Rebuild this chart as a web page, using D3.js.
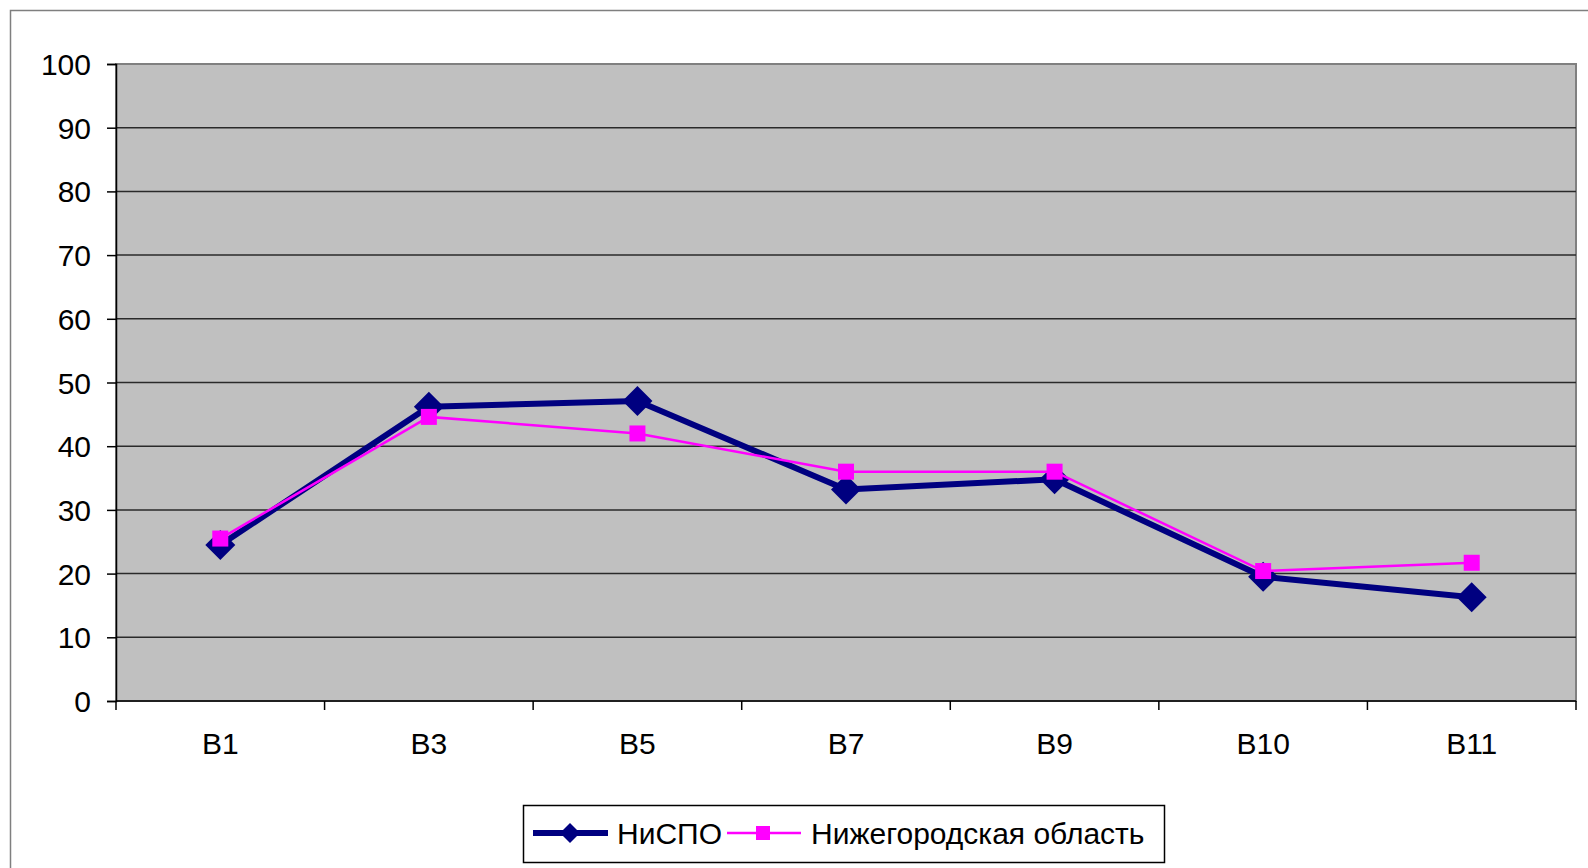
<!DOCTYPE html>
<html>
<head>
<meta charset="utf-8">
<script src="https://cdn.jsdelivr.net/npm/d3@7"></script>
<style>
  body { margin: 0; background: #fff; }
  text { font-family: "Liberation Sans", Arial, sans-serif; fill: #000; }
</style>
</head>
<body>
<script>
// data
var categories = ["B1", "B3", "B5", "B7", "B9", "B10", "B11"];
var nispo = [24.5, 46.2, 47.1, 33.2, 34.8, 19.5, 16.3];
var region = [25.5, 44.6, 42.0, 36.0, 36.0, 20.4, 21.7];
var yTicks = [0, 10, 20, 30, 40, 50, 60, 70, 80, 90, 100];
var seriesNames = ["НиСПО", "Нижегородская область"];

var w = 1588, h = 868,
    padLeft = 116, padRight = 1576, padTop = 64, padBottom = 701,
    fontSize = "30px";

var svg = d3.select("body").append("svg")
    .attr("width", w)
    .attr("height", h);

// outer chart frame
svg.append("rect")
    .attr("x", 10.5).attr("y", 10.5)
    .attr("width", w + 20).attr("height", h + 20)
    .attr("fill", "#fff")
    .attr("stroke", "#7f7f7f")
    .attr("stroke-width", 1.5);

var x = d3.scaleBand().domain(categories).range([padLeft, padRight]);
var y = d3.scaleLinear().domain([0, 100]).range([padBottom, padTop]);

// plot area
svg.append("rect")
    .attr("x", padLeft).attr("y", padTop)
    .attr("width", padRight - padLeft).attr("height", padBottom - padTop)
    .attr("fill", "#c0c0c0")
    .attr("stroke", "#808080")
    .attr("stroke-width", 2);

// gridlines
svg.append("g")
    .selectAll("line")
    .data(yTicks.slice(1, -1))
    .enter().append("line")
    .attr("x1", padLeft).attr("x2", padRight)
    .attr("y1", function(d) { return y(d); })
    .attr("y2", function(d) { return y(d); })
    .attr("stroke", "#2a2a2a")
    .attr("stroke-width", 1.5);

// y axis
var yAxis = svg.append("g")
    .attr("transform", "translate(" + padLeft + ",0)")
    .call(d3.axisLeft(y).tickValues(yTicks).tickSize(9).tickPadding(16));
yAxis.selectAll("text").style("font-size", fontSize).attr("dy", "0.35em");
yAxis.selectAll("line, path").attr("stroke", "#000").attr("stroke-width", 1.5);

// x axis, ticks on category boundaries
var xAxis = svg.append("g")
    .attr("transform", "translate(0," + padBottom + ")");
xAxis.append("line")
    .attr("x1", padLeft).attr("x2", padRight)
    .attr("stroke", "#000").attr("stroke-width", 1.5);
xAxis.selectAll("line.tick")
    .data(categories.concat(["end"]))
    .enter().append("line")
    .attr("class", "tick")
    .attr("x1", function(d, i) { return padLeft + i * x.bandwidth(); })
    .attr("x2", function(d, i) { return padLeft + i * x.bandwidth(); })
    .attr("y1", 0).attr("y2", 9)
    .attr("stroke", "#000").attr("stroke-width", 1.5);
xAxis.selectAll("text")
    .data(categories)
    .enter().append("text")
    .attr("x", function(d) { return x(d) + x.bandwidth() / 2; })
    .attr("y", 53)
    .attr("text-anchor", "middle")
    .style("font-size", fontSize)
    .text(function(d) { return d; });

function cx(d, i) { return x(categories[i]) + x.bandwidth() / 2; }

var line = d3.line().x(cx).y(function(d) { return y(d); });

// navy series
svg.append("path")
    .attr("d", line(nispo))
    .attr("fill", "none")
    .attr("stroke", "#000080")
    .attr("stroke-width", 6)
    .attr("stroke-linejoin", "round");
svg.selectAll("path.diamond")
    .data(nispo)
    .enter().append("path")
    .attr("class", "diamond")
    .attr("d", function(d, i) {
      var px = cx(d, i), py = y(d), r = 15;
      return "M" + px + "," + (py - r) + "L" + (px + r) + "," + py +
             "L" + px + "," + (py + r) + "L" + (px - r) + "," + py + "Z";
    })
    .attr("fill", "#000080");

// magenta series
svg.append("path")
    .attr("d", line(region))
    .attr("fill", "none")
    .attr("stroke", "#ff00ff")
    .attr("stroke-width", 2.5);
svg.selectAll("rect.square")
    .data(region)
    .enter().append("rect")
    .attr("class", "square")
    .attr("x", function(d, i) { return cx(d, i) - 8; })
    .attr("y", function(d) { return y(d) - 8; })
    .attr("width", 16).attr("height", 16)
    .attr("fill", "#ff00ff");

// legend
var lg = svg.append("g");
lg.append("rect")
    .attr("x", 523.5).attr("y", 805.5)
    .attr("width", 641).attr("height", 57)
    .attr("fill", "#fff")
    .attr("stroke", "#000")
    .attr("stroke-width", 1.5);
var ly = 833;
lg.append("line")
    .attr("x1", 533).attr("x2", 608).attr("y1", ly).attr("y2", ly)
    .attr("stroke", "#000080").attr("stroke-width", 6);
lg.append("path")
    .attr("d", "M570," + (ly - 10) + "L580," + ly + "L570," + (ly + 10) + "L560," + ly + "Z")
    .attr("fill", "#000080");
lg.append("text")
    .attr("x", 617).attr("y", ly).attr("dy", "0.35em")
    .style("font-size", fontSize)
    .text(seriesNames[0]);
lg.append("line")
    .attr("x1", 727).attr("x2", 801).attr("y1", ly).attr("y2", ly)
    .attr("stroke", "#ff00ff").attr("stroke-width", 2.5);
lg.append("rect")
    .attr("x", 756).attr("y", ly - 7).attr("width", 14).attr("height", 14)
    .attr("fill", "#ff00ff");
lg.append("text")
    .attr("x", 811).attr("y", ly).attr("dy", "0.35em")
    .style("font-size", fontSize)
    .text(seriesNames[1]);
</script>
</body>
</html>
